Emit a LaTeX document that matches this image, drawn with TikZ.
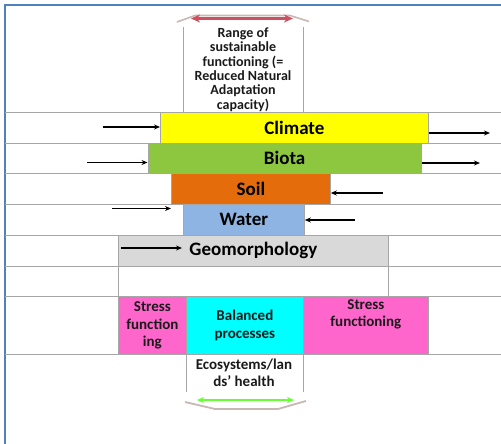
\documentclass[tikz,border=0pt]{standalone}
\usepackage{fontspec}
\setmainfont{Carlito}
\usetikzlibrary{arrows.meta}
\definecolor{framebl}{HTML}{4F81BD}
\definecolor{gridgray}{HTML}{A6A6A6}
\definecolor{cyell}{HTML}{FFFF00}
\definecolor{cgreen}{HTML}{8DC63F}
\definecolor{corange}{HTML}{E46C0A}
\definecolor{cblue}{HTML}{8EB4E3}
\definecolor{cgray}{HTML}{D9D9D9}
\definecolor{cpink}{HTML}{FF66CC}
\definecolor{ccyan}{HTML}{00FFFF}
\definecolor{cred}{HTML}{D0505F}
\definecolor{cgrn}{HTML}{66FF33}
\definecolor{bracketgray}{HTML}{C8B8B4}
\definecolor{txt}{HTML}{1A1A1A}
\begin{document}
\begin{tikzpicture}[x=1pt,y=-1pt,
  gridline/.style={draw=gridgray, line width=0.8pt},
  layer/.style={rectangle, draw=gridgray, line width=0.8pt, inner sep=0pt, anchor=north west,
    font=\bfseries\fontsize{19}{21}\selectfont, text=black},
  small/.style={rectangle, inner sep=0pt, align=center, text=txt,
    font=\bfseries\fontsize{15}{17.5}\selectfont},
  arr/.style={draw=black, line width=1.1pt, -{Stealth[length=6pt,width=5pt]}},
]
\useasboundingbox (0,0) rectangle (501,444);
% frame
\draw[framebl, line width=2pt] (5,444) -- (5,5) -- (501,5);
% horizontal lines
\foreach \yy in {112,143,173,204,235,266,296,354}
  \draw[gridline] (5,\yy) -- (501,\yy);

% top range box
\draw[gridline] (183,27) -- (183,112);
\draw[gridline] (303,27) -- (303,112);
\node[small, font=\bfseries\fontsize{14}{14.3}\selectfont] (range) at (243,69.5)
  {Range of\\sustainable\\functioning (=\\Reduced Natural\\Adaptation\\capacity)};
\coordinate (rl) at (191,18.5);
\coordinate (rr) at (293,18.5);
\draw[bracketgray, line width=1.6pt] (177,22) -- (195,15.5) -- (290,15.5) -- (309,21.5);
\draw[cred, line width=2.6pt, {Stealth[length=9pt,width=8pt]}-{Stealth[length=9pt,width=8pt]}] (rl) -- (rr);

% layers
\node[layer, fill=cyell, minimum width=268pt, minimum height=31pt] (climate) at (160,112) {Climate};
\node[layer, fill=cgreen, minimum width=273.5pt, minimum height=30pt] (biota) at (147.5,143) {Biota};
\node[layer, fill=corange, minimum width=159pt, minimum height=31pt] (soil) at (171,173) {Soil};
\node[layer, fill=cblue, minimum width=121pt, minimum height=31pt] (water) at (183,204) {Water};
\node[layer, fill=cgray, minimum width=270pt, minimum height=31pt] (geo) at (118,235) {Geomorphology};
\draw[gridline] (118,266) -- (118,296);
\draw[gridline] (388,266) -- (388,296);

% bottom boxes
\node[layer, fill=cpink, minimum width=68pt, minimum height=58pt] (sl) at (118,296) {};
\node[small] at (sl.center) {Stress\\function\\ing};
\node[layer, fill=ccyan, minimum width=117pt, minimum height=58pt] (bal) at (186,296) {};
\node[small] at (bal.center) {Balanced\\processes};
\node[layer, fill=cpink, minimum width=125pt, minimum height=58pt] (sr) at (303,296) {};
\node[small, anchor=north] at ([yshift=-3pt]sr.north) {Stress\\functioning};

% ecosystems box
\draw[gridline] (186,354) -- (186,392);
\draw[gridline] (303,354) -- (303,392);
\node[small] (eco) at (244,373) {Ecosystems/lan\\ds' health};
\draw[bracketgray, line width=1.8pt] (185,402) -- (215,409) -- (278,409) -- (306,401);
\coordinate (gl) at (197,400);
\coordinate (gr) at (294,400);
\draw[cgrn, line width=2.2pt, {Stealth[length=7pt,width=6pt]}-{Stealth[length=7pt,width=6pt]}] (gl) -- (gr);

% arrows
\coordinate (a1) at (103,127);
\draw[arr] (a1) -- (climate.west |- a1);
\coordinate (a2) at (490,133);
\draw[arr] (climate.east |- a2) -- (a2);
\coordinate (a3) at (87,162.5);
\draw[arr] (a3) -- (biota.west |- a3);
\coordinate (a4) at (480,163);
\draw[arr] (biota.east |- a4) -- (a4);
\coordinate (a5) at (383,193);
\draw[arr] (a5) -- (soil.east |- a5);
\coordinate (a6) at (112,208.5);
\draw[arr] (a6) -- (soil.west |- a6);
\coordinate (a7) at (355,220);
\draw[arr] (a7) -- (water.east |- a7);
\coordinate (a8) at (121,248);
\coordinate (a8e) at (182,248);
\draw[arr] (a8) -- (a8e);
\end{tikzpicture}
\end{document}
